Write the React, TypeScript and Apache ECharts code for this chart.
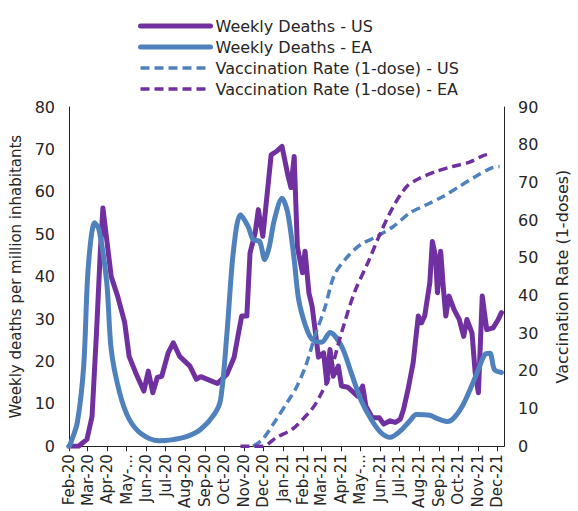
import React, { useEffect, useRef } from "react";
import * as echarts from "echarts";

// Day offsets are days since 2020-02-01
const usDeathDays = [0, 14.5, 28, 35.5, 43, 49, 53, 58.5, 66, 76, 86.5, 94, 104, 117, 124, 131, 137.5, 145, 155, 163, 173, 188.5, 199, 206, 221.5, 232, 247, 257.5, 265, 270, 278, 283, 290.5, 296, 303, 316, 324, 333, 341.7, 346.7, 351.8, 357, 364.6, 368.6, 374.7, 380, 384, 390, 397.7, 403, 408, 413, 420.6, 425.8, 436, 451, 459, 464, 474, 484.5, 492, 502, 510, 517.7, 522.7, 530, 538, 545.7, 550.7, 556, 563.6, 567.6, 572.8, 576.3, 581.4, 585, 589, 594, 602, 609.5, 617, 622, 630, 635, 640, 646, 653, 663, 670.7, 676];
const usDeathValues = [0, 0, 1.6, 7, 26.8, 46, 56.2, 48.7, 40, 35.4, 29.2, 21.2, 17.4, 13, 17.7, 12.6, 16.2, 16.5, 22, 24.4, 21.2, 18.9, 15.8, 16.4, 15.4, 14.8, 17, 20.9, 26.7, 30.7, 30.7, 45.6, 50.3, 55.8, 49.5, 68.7, 69.5, 70.7, 64, 61, 68.3, 47, 40.9, 46, 36.2, 33, 28.3, 21, 22, 15, 22.8, 16.5, 18.9, 14.2, 13.9, 11.8, 14.2, 9.5, 6.7, 6.7, 5.2, 6, 5.6, 6.4, 8.7, 13.4, 19.7, 30.7, 29.1, 30.7, 38.5, 48.3, 44.8, 36.2, 46, 37.7, 30.7, 35.4, 32.2, 29.9, 25.9, 29.9, 26.7, 17.3, 12.6, 35.4, 27.5, 27.9, 29.9, 31.5];

const eaDeathDays = [0, 2, 12.6, 22.7, 30.3, 39.5, 47, 58.5, 66, 79, 94, 114, 140, 160, 186, 206, 227, 237, 247, 257, 268, 280, 288, 298, 306, 313, 321, 333, 342, 352, 359, 370, 380, 395, 408, 426, 441, 456, 472, 487, 502, 518, 533, 543, 564, 576, 592, 602, 615, 627, 640, 650, 658, 665, 676];
const eaDeathValues = [0, 0.5, 5.6, 19, 42, 52.7, 51, 38.6, 22.8, 12.7, 6.4, 2.8, 1.3, 1.5, 2.4, 4, 7.5, 11, 26.8, 46, 54.6, 51.8, 48.7, 48.3, 44, 47, 53.4, 58.5, 55, 44, 34.6, 28.3, 25.2, 24.5, 26.8, 23.6, 17.4, 11, 6.4, 3.3, 2.1, 3.6, 6, 7.5, 7.3, 6.5, 5.8, 6.7, 9.5, 13.4, 18.1, 21.6, 21.9, 18.1, 17.4];

const usVaxDays = [288, 303, 323.7, 344, 354, 369.6, 385, 400, 415, 436, 456, 482, 507, 533, 558, 584, 609.5, 635, 660, 673];
const usVaxValues = [0, 1.9, 7.1, 12.4, 15.1, 21.3, 29.5, 36.7, 45.5, 50.4, 53.5, 55.7, 58.3, 61.9, 64, 66.2, 68.9, 71.5, 73.8, 74.2];

const eaVaxDays = [268, 303, 323.7, 349, 375, 385, 395, 405.5, 425.8, 446, 467, 487, 507, 528, 548, 574, 599, 625, 645, 660];
const eaVaxValues = [0, 0, 2.3, 4.5, 8.9, 11.1, 14.2, 18, 30.1, 40.7, 48.6, 56.6, 63.6, 68.9, 71.1, 72.9, 74.2, 75.3, 76.9, 77.8];

const leftTicks = { min: 0, max: 80, interval: 10 };
const rightTicks = { min: 0, max: 90, interval: 10 };
const MONTHS = ["Jan", "Feb", "Mar", "Apr", "May", "Jun", "Jul", "Aug", "Sep", "Oct", "Nov", "Dec"];
const START_DATE = "2020-02-01";
const END_DATE = "2021-12-12";
const NAMES = [
  "Weekly Deaths - US",
  "Weekly Deaths - EA",
  "Vaccination Rate (1-dose) - US",
  "Vaccination Rate (1-dose) - EA",
];

const PURPLE = "#7030A0";
const BLUE = "#4F81BD";
const FONT = "DejaVu Sans";
const TEXT = "#262626";
const DASH = [9, 5];

function buildDays(): string[] {
  const out: string[] = [];
  const d = new Date(START_DATE + "T00:00:00Z");
  const end = new Date(END_DATE + "T00:00:00Z");
  while (d <= end) {
    out.push(d.toISOString().slice(0, 10));
    d.setUTCDate(d.getUTCDate() + 1);
  }
  return out;
}

function pairs(days: number[], vals: number[]) {
  return days.map((d, i) => [Math.round(d), vals[i]]);
}

export default function App() {
  const ref = useRef<HTMLDivElement>(null);
  useEffect(() => {
    if (!ref.current) return;
    const chart = echarts.init(ref.current, null, { renderer: "svg" });
    const cats = buildDays();
    const isMonthStart = (_i: number, v: string) => v.slice(8, 10) === "01";
    const styles = [
      { color: PURPLE, width: 5, type: "solid" },
      { color: BLUE, width: 5, type: "solid" },
      { color: BLUE, width: 3.5, type: DASH },
      { color: PURPLE, width: 3.5, type: DASH },
    ];
    chart.setOption({
      animation: false,
      backgroundColor: "#fff",
      textStyle: { fontFamily: FONT },
      legend: {
        orient: "vertical",
        left: 133,
        top: 13,
        itemWidth: 70,
        itemHeight: 14,
        itemGap: 5,
        itemStyle: { opacity: 0 },
        textStyle: { fontSize: 16, color: TEXT, fontFamily: FONT },
        data: NAMES.map((n, i) => ({
          name: n,
          itemStyle: { opacity: 0 },
          lineStyle: { color: styles[i].color, width: styles[i].width, type: styles[i].type as any },
        })),
      },
      grid: { left: 69, right: 65, top: 107, bottom: 64, containLabel: false },
      xAxis: {
        type: "category",
        data: cats,
        boundaryGap: false,
        axisLine: { lineStyle: { color: "#222", width: 1 } },
        axisTick: { interval: isMonthStart, length: 5, lineStyle: { color: "#222" } },
        axisLabel: {
          interval: isMonthStart,
          rotate: 90,
          fontSize: 15,
          color: TEXT,
          fontFamily: FONT,
          margin: 8,
          formatter: (v: string) => {
            const m = parseInt(v.slice(5, 7), 10) - 1;
            if (m === 4) return "May-...";
            return MONTHS[m] + "-" + v.slice(2, 4);
          },
        },
        splitLine: { show: false },
      },
      yAxis: [
        {
          type: "value",
          ...leftTicks,
          name: "Weekly deaths per million inhabitants",
          nameLocation: "middle",
          nameGap: 44,
          nameTextStyle: { fontSize: 15, color: TEXT, fontFamily: FONT },
          axisLine: { show: true, lineStyle: { color: "#222" } },
          axisTick: { show: false },
          axisLabel: { fontSize: 16, color: TEXT, margin: 14, fontFamily: FONT },
          splitLine: { show: false },
        },
        {
          type: "value",
          ...rightTicks,
          name: "Vaccination Rate (1-doses)",
          nameLocation: "middle",
          nameGap: 50,
          nameRotate: 90,
          nameTextStyle: { fontSize: 16, color: TEXT, fontFamily: FONT },
          axisLine: { show: true, lineStyle: { color: "#222" } },
          axisTick: { show: false },
          axisLabel: { fontSize: 16, color: TEXT, margin: 14, fontFamily: FONT },
          splitLine: { show: false },
        },
      ],
      series: [
        {
          name: NAMES[0],
          type: "line",
          yAxisIndex: 0,
          symbol: "none",
          data: pairs(usDeathDays, usDeathValues),
          lineStyle: { ...styles[0], join: "round", cap: "round" },
          itemStyle: { color: PURPLE },
        },
        {
          name: NAMES[1],
          type: "line",
          yAxisIndex: 0,
          symbol: "none",
          smooth: 0.3,
          data: pairs(eaDeathDays, eaDeathValues),
          lineStyle: { ...styles[1], join: "round", cap: "round" },
          itemStyle: { color: BLUE },
        },
        {
          name: NAMES[2],
          type: "line",
          yAxisIndex: 1,
          symbol: "none",
          smooth: 0.3,
          data: pairs(usVaxDays, usVaxValues),
          lineStyle: styles[2],
          itemStyle: { color: BLUE },
        },
        {
          name: NAMES[3],
          type: "line",
          yAxisIndex: 1,
          symbol: "none",
          smooth: 0.3,
          data: pairs(eaVaxDays, eaVaxValues),
          lineStyle: styles[3],
          itemStyle: { color: PURPLE },
        },
      ],
    });
    return () => chart.dispose();
  }, []);
  return <div ref={ref} style={{ width: 578, height: 511, position: "absolute", left: 0, top: 0 }} />;
}
